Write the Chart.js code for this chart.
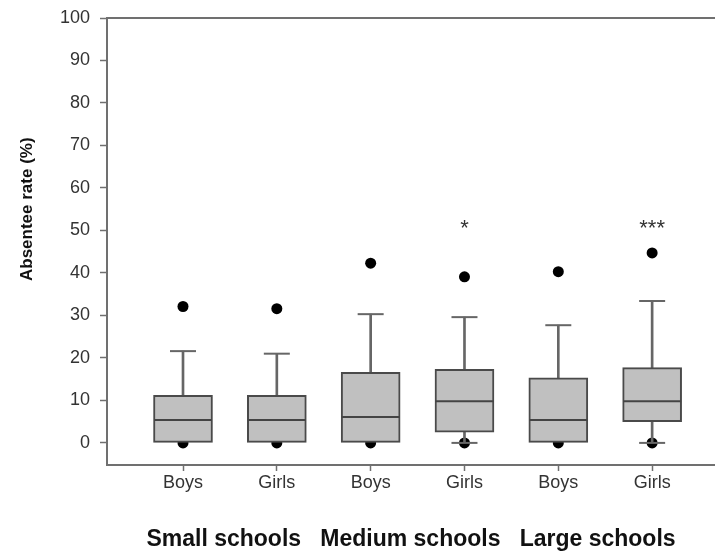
<!DOCTYPE html>
<html>
<head>
<meta charset="utf-8">
<title>Absentee rate by school size</title>
<script src="https://cdn.jsdelivr.net/npm/chart.js@4.4.1/dist/chart.umd.min.js"></script>
<style>
  html, body { margin: 0; padding: 0; background: #fff; }
  #wrap { width: 715px; height: 555px; }
</style>
</head>
<body>
<div id="wrap"><canvas id="absentChart" width="715" height="555"></canvas></div>
<script>
// Box plot values (absentee rate, %)
const categories = ['Boys', 'Girls', 'Boys', 'Girls', 'Boys', 'Girls'];
const q1 = [0, 0, 0, 2.5, 0, 5.0];
const median = [5.4, 5.4, 6.1, 9.8, 5.4, 9.8];
const q3 = [11.2, 11.2, 16.6, 17.3, 15.3, 17.7];
const whiskerLow = [0, 0, 0, 0, 0, 0];
const whiskerHigh = [21.6, 21.0, 30.3, 29.6, 27.7, 33.4];
const outlierHigh = [32.1, 31.6, 42.3, 39.1, 40.3, 44.7];
const outlierLow = [0, 0, 0, 0, 0, 0];
const significance = ['', '', '', '*', '', '***'];
const starLevel = 49;
const yTicks = [0, 10, 20, 30, 40, 50, 60, 70, 80, 90, 100];
const groupTitle = 'Small schools   Medium schools   Large schools';
const yTitle = 'Absentee rate (%)';

const fontFamily = '"Liberation Sans", Arial, sans-serif';
const axisGray = '#707070';

const idx = categories.map((c, i) => i);

const boxData = idx.map(i => ({ x: i, y: [q1[i], q3[i]] }));
const upperWhisker = idx.map(i => ({ x: i, y: [q3[i], whiskerHigh[i]] }));
const lowerWhisker = idx.filter(i => whiskerLow[i] < q1[i]).map(i => ({ x: i, y: [whiskerLow[i], q1[i]] }));
const medianPts = idx.map(i => ({ x: i, y: median[i] }));
const capPts = idx.map(i => ({ x: i, y: whiskerHigh[i] }))
  .concat(idx.filter(i => whiskerLow[i] < q1[i]).map(i => ({ x: i, y: whiskerLow[i] })));
const outlierPts = idx.map(i => ({ x: i, y: outlierHigh[i] }))
  .concat(idx.map(i => ({ x: i, y: outlierLow[i] })));

// frame top line, significance stars and the y title
const extrasPlugin = {
  id: 'extras',
  afterDraw(chart) {
    const { ctx, chartArea, scales } = chart;
    ctx.save();
    ctx.strokeStyle = axisGray;
    ctx.lineWidth = 2;
    ctx.beginPath();
    ctx.moveTo(chartArea.left - 1, chartArea.top);
    ctx.lineTo(chartArea.right, chartArea.top);
    ctx.stroke();

    ctx.fillStyle = '#333';
    ctx.font = '22px ' + fontFamily;
    ctx.textAlign = 'center';
    ctx.textBaseline = 'alphabetic';
    significance.forEach((s, i) => {
      if (!s) return;
      ctx.fillText(s, scales.x.getPixelForValue(i), scales.y.getPixelForValue(starLevel));
    });

    ctx.fillStyle = '#111';
    ctx.font = 'bold 17px ' + fontFamily;
    ctx.textBaseline = 'middle';
    ctx.translate(27, scales.y.getPixelForValue(55));
    ctx.rotate(-Math.PI / 2);
    ctx.fillText(yTitle, 0, 0);
    ctx.restore();
  }
};

new Chart(document.getElementById('absentChart'), {
  type: 'bar',
  data: {
    datasets: [
      {
        type: 'scatter',
        data: outlierPts,
        pointStyle: 'circle',
        pointRadius: 5.5,
        pointHoverRadius: 5.5,
        pointBackgroundColor: '#000',
        pointBorderWidth: 0,
        order: 5
      },
      {
        data: upperWhisker,
        backgroundColor: '#666',
        borderWidth: 0,
        barThickness: 2,
        grouped: false,
        order: 4
      },
      {
        data: lowerWhisker,
        backgroundColor: '#666',
        borderWidth: 0,
        barThickness: 2,
        grouped: false,
        order: 4
      },
      {
        data: boxData,
        backgroundColor: '#c0c0c0',
        borderColor: '#4a4a4a',
        borderWidth: 2,
        borderSkipped: false,
        barThickness: 59,
        grouped: false,
        order: 3
      },
      {
        type: 'scatter',
        data: medianPts,
        pointStyle: 'line',
        pointRadius: 29,
        pointHoverRadius: 29,
        pointBorderColor: '#444',
        pointBorderWidth: 2,
        order: 2
      },
      {
        type: 'scatter',
        data: capPts,
        pointStyle: 'line',
        pointRadius: 13,
        pointHoverRadius: 13,
        pointBorderColor: '#666',
        pointBorderWidth: 2,
        order: 1
      }
    ]
  },
  options: {
    responsive: false,
    animation: false,
    events: [],
    layout: {
      autoPadding: false,
      padding: { top: 18, left: 0, right: 0, bottom: 0 }
    },
    plugins: {
      legend: { display: false },
      tooltip: { enabled: false }
    },
    scales: {
      x: {
        type: 'linear',
        min: -0.81,
        max: 5.67,
        offset: false,
        afterFit(scale) {
          scale.height = 90;
          scale.paddingLeft = 0;
          scale.paddingRight = 0;
        },
        grid: {
          offset: false,
          drawOnChartArea: false,
          drawTicks: true,
          tickLength: 6,
          tickColor: axisGray,
          tickWidth: 1.5
        },
        border: { display: true, color: axisGray, width: 2 },
        ticks: {
          stepSize: 1,
          includeBounds: false,
          autoSkip: false,
          maxRotation: 0,
          padding: 1,
          color: '#333',
          font: { family: fontFamily, size: 18 },
          callback: v => (Number.isInteger(v) && categories[v] !== undefined) ? categories[v] : ''
        },
        title: {
          display: true,
          text: groupTitle,
          color: '#111',
          font: { family: fontFamily, size: 23, weight: 'bold' },
          padding: { top: 0, bottom: 2 }
        }
      },
      y: {
        min: -5.2,
        max: 100,
        beginAtZero: false,
        afterFit(scale) {
          scale.width = 107;
          scale.paddingTop = 0;
          scale.paddingBottom = 0;
        },
        afterBuildTicks(scale) { scale.ticks = yTicks.map(v => ({ value: v })); },
        grid: {
          drawOnChartArea: false,
          drawTicks: true,
          tickLength: 7,
          tickColor: axisGray,
          tickWidth: 1.5
        },
        border: { display: true, color: axisGray, width: 2 },
        ticks: {
          padding: 10,
          color: '#333',
          font: { family: fontFamily, size: 18 }
        }
      }
    }
  },
  plugins: [extrasPlugin]
});
</script>
</body>
</html>
